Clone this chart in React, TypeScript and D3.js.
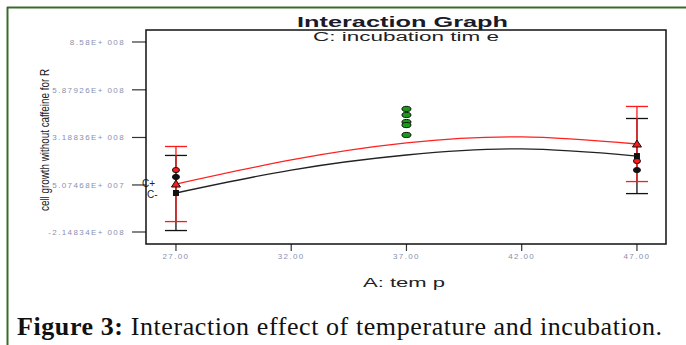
import { useEffect, useRef } from 'react';
import * as d3 from 'd3';

// Predicted means along A: temp, for the two levels of C
const temps = [27, 32, 37, 42, 47];
const predCplus = [5.6e7, 1.92e8, 2.88e8, 3.22e8, 2.82e8];
const predCminus = [5.4e6, 1.35e8, 2.2e8, 2.54e8, 2.14e8];

// LSD bars at the two ends
const lsdTemps = [27, 47];
const lsdHalf = 2.12e8;

// Observed design points
const obsTemps = [27, 27, 37, 37, 37, 37, 37, 47, 47];
const obsValues = [1.35e8, 9.6e7, 4.8e8, 4.46e8, 4.06e8, 3.89e8, 3.33e8, 1.86e8, 1.35e8];
const obsGroups = ['C+', 'C-', 'ctr', 'ctr', 'ctr', 'ctr', 'ctr', 'C+', 'C-'];

const yTickValues = [-2.14834e8, 5.07468e7, 3.18836e8, 5.87926e8, 8.58e8];
const yTickLabels = ['-2.14834E+ 008', '5.07468E+ 007', '3.18836E+ 008', '5.87926E+ 008', '8.58E+ 008'];
const xTickValues = [27, 32, 37, 42, 47];
const xTickLabels = ['27.00', '32.00', '37.00', '42.00', '47.00'];

const W = 686, H = 345;

export default function App() {
  const svgRef = useRef<SVGSVGElement>(null);

  useEffect(() => {
    if (!svgRef.current) return;
    const svg = d3.select(svgRef.current);
    svg.selectAll('*').remove();

    const left = 146, right = 666, top = 30, bottom = 244;
    const x = d3.scaleLinear().domain([25.7, 48.26]).range([left, right]);
    const y = d3.scaleLinear().domain([-2.826e8, 9.257e8]).range([bottom, top]);
    const sans = 'Liberation Sans, Arial, sans-serif';
    const tickCol = '#8790b0';

    svg.append('rect').attr('width', W).attr('height', H).attr('fill', 'white');

    // green frame
    svg.append('line').attr('x1', 7).attr('x2', W).attr('y1', 7.5).attr('y2', 7.5)
      .attr('stroke', '#3d6a2c').attr('stroke-width', 2);
    svg.append('line').attr('x1', 7.5).attr('x2', 7.5).attr('y1', 7).attr('y2', H)
      .attr('stroke', '#3d6a2c').attr('stroke-width', 2);

    // y ticks
    yTickValues.forEach((v, i) => {
      svg.append('line').attr('x1', left - 14).attr('x2', left).attr('y1', y(v)).attr('y2', y(v))
        .attr('stroke', '#333').attr('stroke-width', 1.2);
      svg.append('text').attr('x', 125).attr('y', y(v) + 3).attr('text-anchor', 'end')
        .attr('font-family', sans).attr('font-size', '8px').attr('letter-spacing', 1.4).attr('fill', tickCol)
        .text(yTickLabels[i]);
    });

    // x ticks
    xTickValues.forEach((v, i) => {
      svg.append('line').attr('x1', x(v)).attr('x2', x(v)).attr('y1', bottom).attr('y2', bottom + 7)
        .attr('stroke', '#333').attr('stroke-width', 1.2);
      svg.append('text').attr('x', x(v)).attr('y', bottom + 15).attr('text-anchor', 'middle')
        .attr('font-family', sans).attr('font-size', '8px').attr('letter-spacing', 1.4).attr('fill', tickCol)
        .text(xTickLabels[i]);
    });

    // LSD bars
    const bar = (t: number, center: number, color: string) => {
      const cx = x(t), y0 = y(center - lsdHalf), y1 = y(center + lsdHalf);
      svg.append('line').attr('x1', cx).attr('x2', cx).attr('y1', y0).attr('y2', y1)
        .attr('stroke', color).attr('stroke-width', 1.3);
      [y0, y1].forEach(yy => svg.append('line').attr('x1', cx - 11).attr('x2', cx + 11)
        .attr('y1', yy).attr('y2', yy).attr('stroke', color).attr('stroke-width', 1.3));
    };
    lsdTemps.forEach(t => {
      const i = temps.indexOf(t);
      bar(t, predCminus[i], '#111');
      bar(t, predCplus[i], '#ff1a1a');
    });

    // prediction curves
    const line = d3.line<number>().x((_, i) => x(temps[i])).y(d => y(d)).curve(d3.curveNatural);
    svg.append('path').datum(predCminus).attr('d', line)
      .attr('fill', 'none').attr('stroke', '#222').attr('stroke-width', 1.3);
    svg.append('path').datum(predCplus).attr('d', line)
      .attr('fill', 'none').attr('stroke', '#ff2020').attr('stroke-width', 1.3);

    // observed points
    const fillFor: Record<string, string> = { 'C+': '#ff1a1a', 'C-': '#111', ctr: '#1a9a1a' };
    obsValues.forEach((v, i) => {
      svg.append('ellipse').attr('cx', x(obsTemps[i])).attr('cy', y(v))
        .attr('rx', obsGroups[i] === 'ctr' ? 4.5 : 3.5).attr('ry', 2.6)
        .attr('fill', fillFor[obsGroups[i]]).attr('stroke', '#111').attr('stroke-width', 1);
    });

    // end markers
    lsdTemps.forEach(t => {
      const i = temps.indexOf(t);
      const px = x(t), pyP = y(predCplus[i]), pyM = y(predCminus[i]);
      svg.append('path').attr('d', `M${px},${pyP - 4}L${px + 4.5},${pyP + 3}L${px - 4.5},${pyP + 3}Z`)
        .attr('fill', '#ff1a1a').attr('stroke', '#111').attr('stroke-width', 1);
      svg.append('rect').attr('x', px - 3).attr('y', pyM - 3).attr('width', 6).attr('height', 6)
        .attr('fill', '#111');
    });

    // C+ / C- labels
    svg.append('text').attr('x', 142).attr('y', y(predCplus[0]) + 3)
      .attr('font-family', sans).attr('font-size', '10px').attr('fill', '#222').text('C+');
    svg.append('text').attr('x', 147).attr('y', y(predCminus[0]) + 5)
      .attr('font-family', sans).attr('font-size', '10px').attr('fill', '#222').text('C-');

    // plot box
    svg.append('rect').attr('x', left).attr('y', top).attr('width', right - left).attr('height', bottom - top)
      .attr('fill', 'none').attr('stroke', '#111').attr('stroke-width', 1.5);

    // titles
    svg.append('text').attr('x', 297).attr('y', 27).attr('textLength', 211).attr('lengthAdjust', 'spacingAndGlyphs')
      .attr('font-family', sans).attr('font-size', '14px').attr('font-weight', 'bold').attr('fill', '#1a1a2a')
      .text('Interaction  Graph');
    svg.append('text').attr('x', 313).attr('y', 41).attr('textLength', 186).attr('lengthAdjust', 'spacingAndGlyphs')
      .attr('font-family', sans).attr('font-size', '12px').attr('fill', '#222')
      .text('C: incubation tim e');
    svg.append('text').attr('x', 363).attr('y', 287).attr('textLength', 82).attr('lengthAdjust', 'spacingAndGlyphs')
      .attr('font-family', sans).attr('font-size', '12px').attr('fill', '#222')
      .text('A: tem p');
    svg.append('text').attr('transform', 'translate(49,140) rotate(-90)').attr('text-anchor', 'middle')
      .attr('textLength', 142).attr('lengthAdjust', 'spacingAndGlyphs')
      .attr('font-family', sans).attr('font-size', '12px').attr('fill', '#222')
      .text('cell growth  without caffeine for R');

    // caption
    const cap = svg.append('text').attr('x', 17).attr('y', 335)
      .attr('textLength', 645).attr('lengthAdjust', 'spacing')
      .attr('font-family', 'Liberation Serif, serif').attr('font-size', '26px').attr('fill', '#111');
    cap.append('tspan').attr('font-weight', 'bold').text('Figure 3:');
    cap.append('tspan').text(' Interaction effect of temperature and incubation.');
  }, []);

  return (
    <svg ref={svgRef} width={W} height={H} viewBox={`0 0 ${W} ${H}`}
      style={{ position: 'absolute', left: 0, top: 0, display: 'block' }} />
  );
}
